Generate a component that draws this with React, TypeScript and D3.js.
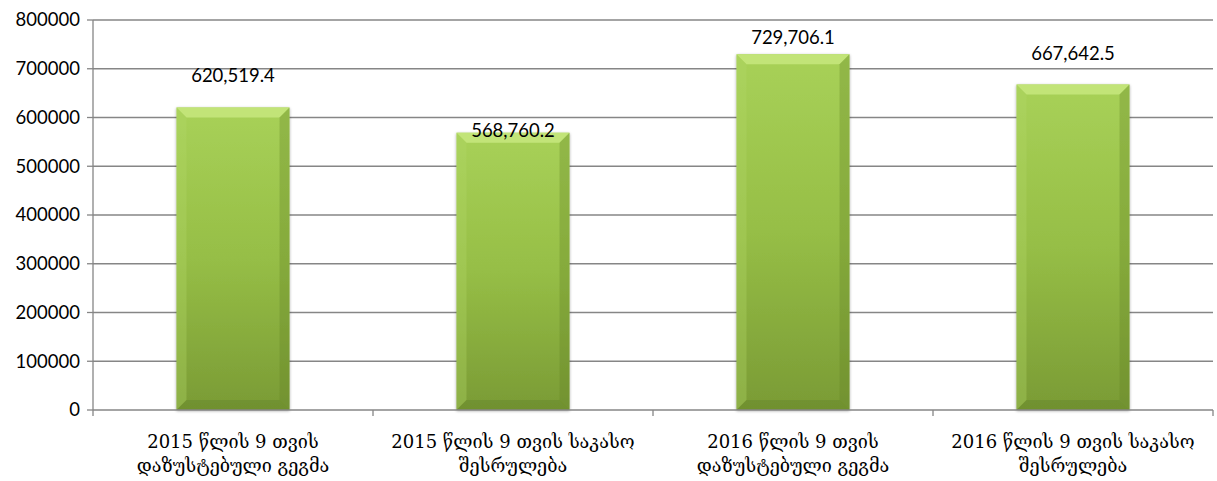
import React from "react";
import * as d3 from "d3";

const categories: string[][] = [
  ["2015 წლის 9 თვის", "დაზუსტებული გეგმა"],
  ["2015 წლის 9 თვის საკასო", "შესრულება"],
  ["2016 წლის 9 თვის", "დაზუსტებული გეგმა"],
  ["2016 წლის 9 თვის საკასო", "შესრულება"],
];
const values: number[] = [620519.4, 568760.2, 729706.1, 667642.5];
const valueLabels: string[] = ["620,519.4", "568,760.2", "729,706.1", "667,642.5"];
const labelOffsets: number[] = [32, 2, 17, 31];
const yTicks: number[] = [0, 100000, 200000, 300000, 400000, 500000, 600000, 700000, 800000];

const W = 1217;
const H = 481;
const left = 93;
const right = 1213;
const top = 20;
const bottom = 410;

export default function App() {
  const x = d3.scaleBand<number>().domain(d3.range(categories.length)).range([left, right]).paddingInner(0).paddingOuter(0);
  const y = d3.scaleLinear().domain([0, 800000]).range([bottom, top]);
  const bw = 113;
  const bev = 10;
  const grid = "#868686";
  const numFont = "Lato, 'Open Sans', sans-serif";
  const catFont = "'DejaVu Serif', 'DejaVu Sans', serif";
  return (
    <svg width={W} height={H} style={{ position: "absolute", left: 0, top: 0 }}>
      <defs>
        <linearGradient id="body" x1="0" y1="0" x2="0" y2="1">
          <stop offset="0" stopColor="#a8d158" />
          <stop offset="0.5" stopColor="#96be46" />
          <stop offset="1" stopColor="#7a9b35" />
        </linearGradient>
        <filter id="sh" x="-10%" y="-10%" width="120%" height="120%">
          <feGaussianBlur in="SourceAlpha" stdDeviation="1.5" />
          <feOffset dx="0" dy="1" result="b" />
          <feComponentTransfer><feFuncA type="linear" slope="0.35" /></feComponentTransfer>
          <feMerge><feMergeNode /><feMergeNode in="SourceGraphic" /></feMerge>
        </filter>
      </defs>
      <rect width={W} height={H} fill="#fff" />
      {yTicks.map((t) => (
        <g key={t}>
          {t > 0 && <line x1={left} x2={right} y1={y(t)} y2={y(t)} stroke={grid} strokeWidth={1.3} />}
          <line x1={left - 6} x2={left} y1={y(t)} y2={y(t)} stroke={grid} strokeWidth={1.3} />
          <text x={80} y={y(t)} dy="0.35em" textAnchor="end" fontFamily={numFont} fontSize={18.5} fill="#000">
            {t}
          </text>
        </g>
      ))}
      <line x1={left} x2={left} y1={top} y2={bottom} stroke={grid} strokeWidth={1.3} />
      {values.map((v, i) => {
        const cx = (x(i) as number) + x.bandwidth() / 2;
        const x0 = cx - bw / 2;
        const x1 = cx + bw / 2;
        const y0 = y(v);
        const y1 = y(0);
        return (
          <g key={i} filter="url(#sh)">
            <rect x={x0} y={y0} width={bw} height={y1 - y0} fill="url(#body)" />
            <polygon points={`${x0},${y0} ${x1},${y0} ${x1 - bev},${y0 + bev} ${x0 + bev},${y0 + bev}`} fill="#c2e478" />
            <polygon points={`${x0},${y0} ${x0 + bev},${y0 + bev} ${x0 + bev},${y1 - bev} ${x0},${y1}`} fill="#b2d866" opacity={0.35} />
            <polygon points={`${x1},${y0} ${x1 - bev},${y0 + bev} ${x1 - bev},${y1 - bev} ${x1},${y1}`} fill="#5f7d24" opacity={0.3} />
            <polygon points={`${x0},${y1} ${x0 + bev},${y1 - bev} ${x1 - bev},${y1 - bev} ${x1},${y1}`} fill="#5f7d24" opacity={0.35} />
          </g>
        );
      })}
      <line x1={left} x2={right} y1={bottom} y2={bottom} stroke={grid} strokeWidth={1.3} />
      {d3.range(categories.length + 1).map((i) => {
        const xx = left + i * x.step();
        return <line key={i} x1={xx} x2={xx} y1={bottom} y2={bottom + 6} stroke={grid} strokeWidth={1.3} />;
      })}
      {values.map((v, i) => {
        const cx = (x(i) as number) + x.bandwidth() / 2;
        return (
          <text key={i} x={cx} y={y(v) - labelOffsets[i]} dy="0.35em" textAnchor="middle" fontFamily={numFont} fontSize={18.5} fill="#000">
            {valueLabels[i]}
          </text>
        );
      })}
      {categories.map((lines, i) => {
        const cx = (x(i) as number) + x.bandwidth() / 2;
        return (
          <text key={i} textAnchor="middle" fontFamily={catFont} fontSize={18} fill="#000">
            {lines.map((l, j) => (
              <tspan key={j} x={cx} y={448 + j * 24}>{l}</tspan>
            ))}
          </text>
        );
      })}
    </svg>
  );
}
